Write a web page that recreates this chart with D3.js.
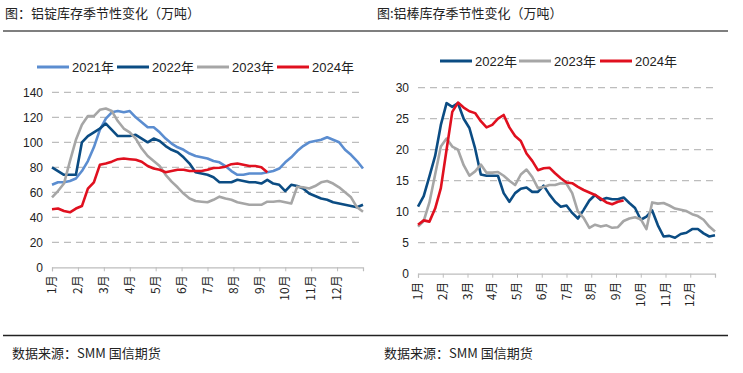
<!DOCTYPE html>
<html>
<head>
<meta charset="utf-8">
<script src="https://cdn.jsdelivr.net/npm/d3@7"></script>
<style>
  body { margin: 0; background: #fff; }
  text { font-family: "Liberation Sans", Arial, "Noto Sans CJK SC", sans-serif; fill: #222; }
  .cn { font-family: "Noto Sans CJK SC", sans-serif; }
</style>
</head>
<body>
<div id="vis"></div>
<script>
// month tick labels (x axis) — weekly data, 53 points per year
const months = ['1月', '2月', '3月', '4月', '5月', '6月', '7月', '8月', '9月', '10月', '11月', '12月'];

// 铝锭库存 (万吨), weekly
const ingot2021 = [66, 68, 68, 69, 71, 77, 85, 96, 110, 119, 124, 125, 124, 125, 120, 116, 112, 112, 108, 103,
    99, 96, 94, 91, 89, 88, 87, 85, 84, 81, 77, 74, 74, 75, 75, 75, 76, 77, 79, 84,
    88, 93, 97, 100, 101, 102, 104, 102, 100, 94, 90, 85, 79];
const ingot2022 = [80, 77, 74, 74, 74, 100, 105, 108, 111, 115, 110, 105, 105, 105, 106, 103, 100, 103, 101, 97,
    94, 92, 88, 83, 76, 75, 74, 72, 68, 68, 68, 70, 69, 68, 68, 67, 70, 67, 66, 61,
    66, 65, 63, 59, 57, 55, 54, 52, 51, 50, 49, 48, 50];
const ingot2023 = [56, 61, 67, 85, 102, 114, 121, 121, 126, 127, 125, 117, 111, 108, 103, 95, 89, 85, 81, 74,
    68.5, 64, 59, 55, 53, 52.5, 52, 54, 56.5, 55, 54, 52, 51, 50, 50, 50, 52.5, 52.5, 53, 52,
    51, 64.5, 64, 63, 65, 68, 69, 67, 64, 60, 56, 48, 44.5];
const ingot2024 = [46.5, 47, 45, 44, 47, 49, 63, 68, 82, 83, 84.5, 86.5, 87, 86.5, 86, 84.5, 81, 79, 78, 76,
    77, 78, 78, 77, 77, 77, 78, 79.5, 79.7, 80.5, 82.5, 83, 82, 81, 81, 80, 76];

// 铝棒库存 (万吨), weekly
const bar2022 = [10.8, 12.5, 15.7, 19, 24, 27.5, 26.9, 27.5, 25, 23.5, 20.2, 16, 15.8, 15.8, 15.8, 13, 11.6, 13, 13.7, 13.9,
    13.2, 13.2, 14.2, 12.8, 11.6, 10.8, 11, 9.8, 8.9, 10.3, 11.8, 12.7, 11.9, 12.2, 12, 12, 12.3, 11.4, 10.6, 8.7,
    9.2, 10.2, 7.8, 6, 6.1, 5.8, 6.4, 6.6, 7.2, 7.2, 6.5, 6, 6.2];
const bar2023 = [7.6, 8.5, 11.5, 16, 20.5, 21.8, 20.5, 20, 17.5, 15.8, 16.5, 17.6, 16.3, 16.3, 16.4, 15.8, 15, 14.3, 16, 16.8,
    15.6, 13.8, 14, 14.3, 14.3, 14.6, 14.5, 13, 10, 9, 7.4, 7.9, 7.6, 7.8, 7.4, 7.5, 8.5, 8.9, 9.1, 8.8,
    7.2, 11.5, 11.3, 11.4, 11, 10.5, 10.3, 10.1, 9.6, 9.3, 8.7, 7.6, 6.8];
const bar2024 = [7.9, 8.6, 8.4, 10.5, 13.8, 20, 26.1, 27.6, 26.8, 26.2, 25.9, 24.6, 23.6, 24, 25, 25.6, 23.6, 22.2, 21.4, 19.4,
    18.2, 16.7, 17, 17.1, 16.2, 15.4, 14.7, 14.6, 14, 13.5, 13.1, 12.7, 12.1, 11.5, 11.2, 11.6, 11.8];

const ingotTicks = [0, 20, 40, 60, 80, 100, 120, 140];
const barTicks = [0, 5, 10, 15, 20, 25, 30];

const colors = { '2021年': '#5B8DD0', '2022年': '#0B4C83', '2023年': '#A6A6A6', '2024年': '#E0101F' };

const W = 743, H = 373;
const svg = d3.select('#vis').append('svg')
    .attr('width', W)
    .attr('height', H);

// frame: titles, rules, source
svg.append('line').attr('x1', 3).attr('x2', 728).attr('y1', 31).attr('y2', 31)
    .attr('stroke', '#555').attr('stroke-width', 1.3);
svg.append('line').attr('x1', 3).attr('x2', 728).attr('y1', 335.5).attr('y2', 335.5)
    .attr('stroke', '#222').attr('stroke-width', 1.3);

function drawChart(o) {
    const g = svg.append('g');

    g.append('text').attr('class', 'cn')
        .attr('x', o.titleX).attr('y', 18)
        .style('font-size', '13px')
        .text(o.title);

    g.append('text').attr('class', 'cn')
        .attr('x', o.titleX + 7).attr('y', 358)
        .style('font-size', '13px')
        .text('数据来源：SMM 国信期货');

    const x = d3.scaleLinear().domain([0, 52]).range(o.xRange);
    const y = d3.scaleLinear().domain([0, d3.max(o.ticks)]).range(o.yRange);

    // dashed grid
    g.selectAll('.grid')
        .data(o.ticks.filter(d => d > 0))
        .enter()
        .append('line')
        .attr('x1', o.xRange[0]).attr('x2', o.xRange[1])
        .attr('y1', d => y(d)).attr('y2', d => y(d))
        .attr('stroke', '#BDBDBD')
        .attr('stroke-width', 1.2)
        .attr('stroke-dasharray', '7,5');

    // y labels
    g.selectAll('.ylab')
        .data(o.ticks)
        .enter()
        .append('text')
        .attr('x', o.xRange[0] - 9)
        .attr('y', d => y(d))
        .attr('dy', '0.35em')
        .attr('text-anchor', 'end')
        .style('font-size', '12px')
        .text(d => d);

    // x axis
    const monthPos = months.map((m, i) => i * 52 / 12);
    const xAxis = d3.axisBottom(x)
        .tickValues(monthPos)
        .tickSize(4)
        .tickFormat('');
    const ax = g.append('g')
        .attr('transform', `translate(0,${o.yRange[0]})`)
        .call(xAxis);
    ax.select('.domain').attr('stroke', '#BDBDBD').attr('stroke-width', 1.2);
    ax.selectAll('.tick line').attr('stroke', '#BDBDBD');

    g.selectAll('.mlab')
        .data(months)
        .enter()
        .append('text')
        .attr('class', 'cn')
        .attr('transform', (d, i) => `translate(${x(monthPos[i])},${o.yRange[0] + 8}) rotate(-90)`)
        .attr('dy', '0.35em')
        .attr('text-anchor', 'end')
        .style('font-size', '12px')
        .text(d => d);

    // lines
    const line = d3.line()
        .x((d, i) => x(i))
        .y(d => y(d));

    o.series.forEach(s => {
        g.append('path')
            .datum(s.values)
            .attr('fill', 'none')
            .attr('stroke', colors[s.name])
            .attr('stroke-width', 2.6)
            .attr('stroke-linejoin', 'round')
            .attr('d', line);
    });

    // legend
    o.series.forEach((s, i) => {
        const lx = o.legendX[i];
        g.append('line')
            .attr('x1', lx).attr('x2', lx + 32)
            .attr('y1', o.legendY).attr('y2', o.legendY)
            .attr('stroke', colors[s.name])
            .attr('stroke-width', 3);
        g.append('text')
            .attr('x', lx + 35).attr('y', o.legendY)
            .attr('dy', '0.36em')
            .style('font-size', '13px')
            .text(s.name);
    });
}

drawChart({
    title: '图：铝锭库存季节性变化（万吨）',
    titleX: 5,
    xRange: [52, 363],
    yRange: [267.3, 92.3],
    ticks: ingotTicks,
    legendY: 67,
    legendX: [37, 117, 197, 277],
    series: [
        { name: '2021年', values: ingot2021 },
        { name: '2022年', values: ingot2022 },
        { name: '2023年', values: ingot2023 },
        { name: '2024年', values: ingot2024 }
    ]
});

drawChart({
    title: '图:铝棒库存季节性变化（万吨）',
    titleX: 377,
    xRange: [418, 715],
    yRange: [273.7, 87.7],
    ticks: barTicks,
    legendY: 61,
    legendX: [440, 519, 600],
    series: [
        { name: '2022年', values: bar2022 },
        { name: '2023年', values: bar2023 },
        { name: '2024年', values: bar2024 }
    ]
});
</script>
</body>
</html>
